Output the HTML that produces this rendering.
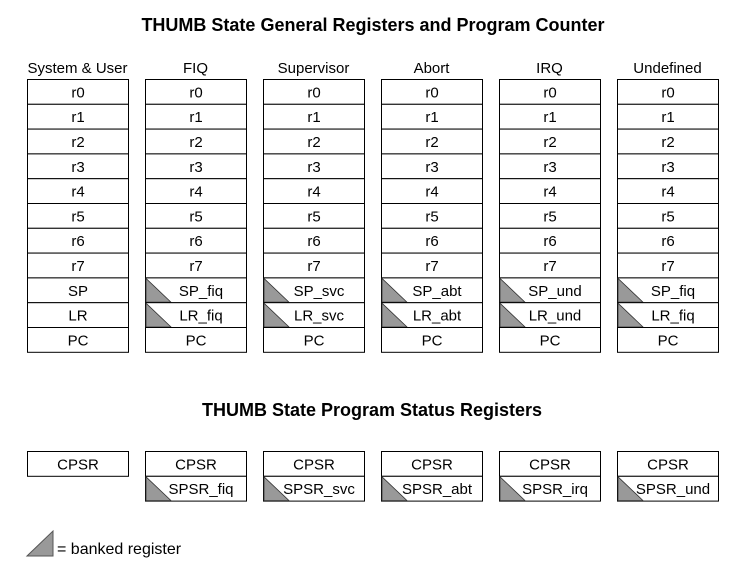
<!DOCTYPE html>
<html><head><meta charset="utf-8"><style>
body{margin:0;background:#fff}
svg text{font-family:"Liberation Sans",Arial,sans-serif;fill:#000}
</style></head><body>
<svg id="d" width="748" height="567" xmlns="http://www.w3.org/2000/svg">
<text x="373" y="31" font-size="18" font-weight="bold" text-anchor="middle">THUMB State General Registers and Program Counter</text>
<text x="372" y="416" font-size="18" font-weight="bold" text-anchor="middle">THUMB State Program Status Registers</text>
<g id="cols"></g>
<polygon points="27,556 53,531 53,556" fill="#999" stroke="#555" stroke-width="1"/>
<text x="57" y="554" font-size="16">= banked register</text>
</svg>
<script>
const modes=["System & User","FIQ","Supervisor","Abort","IRQ","Undefined"];
const suffix=["","fiq","svc","abt","und","fiq"];
const spsrSuffix=["","fiq","svc","abt","irq","und"];
const NS="http://www.w3.org/2000/svg";
const g=document.getElementById('cols');
const x0=27,step=118,w=101,top0=79.5,rh=24.8;
function mk(t,a,p){const e=document.createElementNS(NS,t);for(const k in a)e.setAttribute(k,a[k]);(p||g).appendChild(e);return e;}
function cell(x,y,label,banked,name){
  const r=mk('rect',{x:x+0.5,y:y,width:w,height:rh,fill:'#fff',stroke:'#000','stroke-width':1});
  
  
  if(banked){
    const p=mk('polygon',{points:`${x+1},${y+0.5} ${x+1},${y+rh-0.5} ${x+26},${y+rh-0.5}`,fill:'#999',stroke:'#333','stroke-width':0.8});
    
    
  }
  const t=mk('text',{x:x+w/2+0.5+(banked?5:0),y:y+rh/2+5.5,'font-size':15,'text-anchor':'middle'});
  t.textContent=label;
  
  
}
modes.forEach((m,i)=>{
  const x=x0+i*step;
  const h=mk('text',{x:x+w/2,y:73,'font-size':15,'text-anchor':'middle'});
  h.textContent=m;
  
  
  const regs=["r0","r1","r2","r3","r4","r5","r6","r7"];
  regs.forEach((r,j)=>cell(x,top0+j*rh,r,false,r));
  cell(x,top0+8*rh,i?"SP_"+suffix[i]:"SP",i>0,'sp');
  cell(x,top0+9*rh,i?"LR_"+suffix[i]:"LR",i>0,'lr');
  cell(x,top0+10*rh,"PC",false,'pc');
  cell(x,451.5,"CPSR",false,'cpsr');
  if(i>0)cell(x,451.5+rh,"SPSR_"+spsrSuffix[i],true,'spsr');
});
</script>
</body></html>
